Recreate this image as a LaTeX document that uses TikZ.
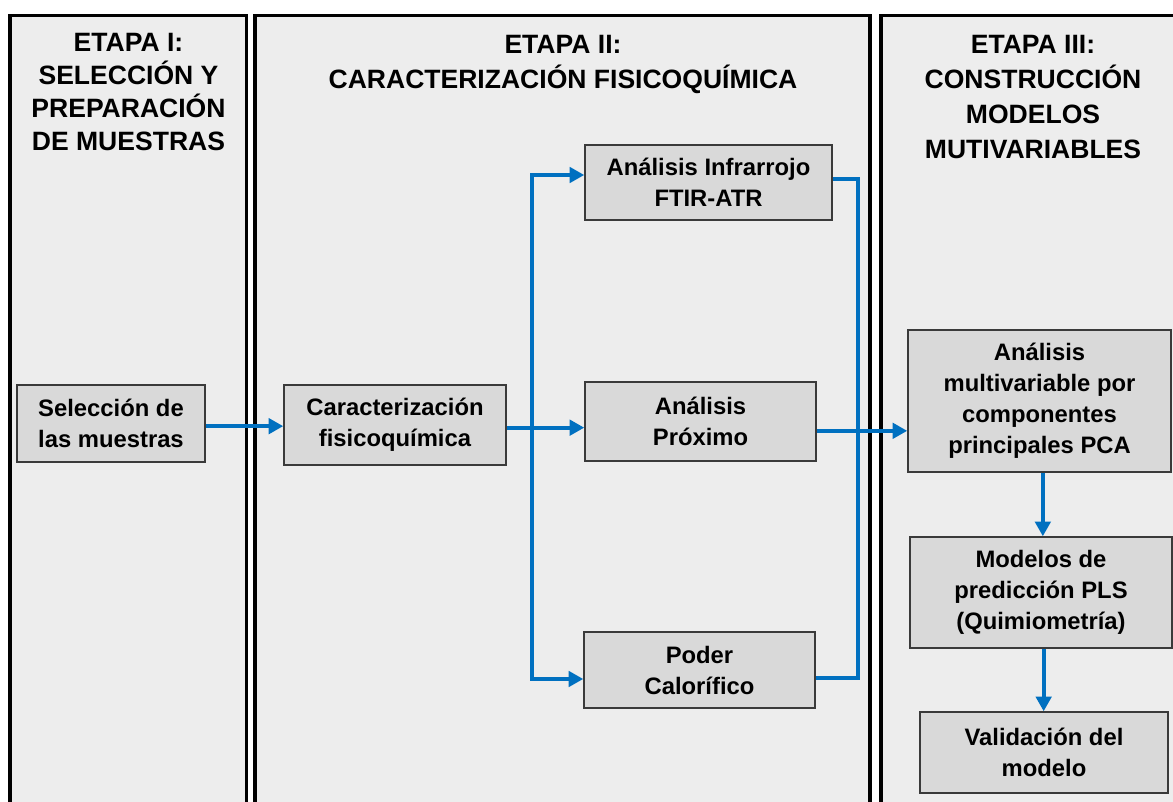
\documentclass[tikz,border=0pt]{standalone}
\usepackage{fontspec}
\setmainfont{Liberation Sans}
\usetikzlibrary{arrows.meta}
\definecolor{stBlue}{HTML}{0070C0}
\definecolor{stPanel}{HTML}{EDEDED}
\definecolor{stBox}{HTML}{D9D9D9}
\definecolor{stEdge}{HTML}{3A3A3A}

\begin{document}
\begin{tikzpicture}[
  x=0.75pt, y=-0.75pt,
  panel/.style ={draw=black, line width=2.3pt, fill=stPanel},
  etapa/.style ={align=center, inner sep=0pt, anchor=north, font=\fontsize{19.9pt}{24.75pt}\selectfont\bfseries},
  etapaw/.style={etapa, font=\fontsize{19.9pt}{26.25pt}\selectfont\bfseries},
  paso/.style  ={draw=stEdge, line width=1.1pt, fill=stBox, align=center, inner sep=0pt, font=\fontsize{17.85pt}{23.25pt}\selectfont\bfseries},
  wire/.style  ={draw=stBlue, line width=2.8pt, line join=miter},
  flow/.style  ={wire, -{Triangle[length=11pt, width=11.5pt]}}]
  \fill[white] (0,0) rectangle (1173,802);
  \useasboundingbox (0,0) rectangle (1173,802);
  \draw[panel] (10,15.5) rectangle (246.5,830);
  \draw[panel] (255,15.5) rectangle (870,830);
  \draw[panel] (881,15.5) rectangle (1190,830);
  \node[etapa] (e1) at (128.5,33) {ETAPA I:\\SELECCIÓN Y\\PREPARACIÓN\\DE MUESTRAS};
  \node[etapaw] (e2) at (563,35) {ETAPA II:\\CARACTERIZACIÓN FISICOQUÍMICA};
  \node[etapaw] (e3) at (1033,35) {ETAPA III:\\CONSTRUCCIÓN\\MODELOS\\MUTIVARIABLES};
  \node[paso, minimum width=141pt, minimum height=57.75pt] (sel) at (111,423.5) {Selección de\\las muestras};
  \node[paso, minimum width=166.5pt, minimum height=60pt] (car) at (395,425) {Caracterización\\fisicoquímica};
  \node[paso, minimum width=185.25pt, minimum height=56.25pt] (ftir) at (708.5,182.5) {Análisis Infrarrojo\\FTIR-ATR};
  \node[paso, minimum width=173.25pt, minimum height=59.25pt] (prox) at (700.5,421.5) {Análisis\\Próximo};
  \node[paso, minimum width=173.25pt, minimum height=57pt] (poder) at (699.5,670) {Poder\\Calorífico};
  \node[paso, minimum width=197.25pt, minimum height=106.5pt] (pca) at (1039.5,401) {Análisis\\multivariable por\\componentes\\principales PCA};
  \node[paso, minimum width=196.5pt, minimum height=83.25pt] (pls) at (1041,592.5) {Modelos de\\predicción PLS\\(Quimiometría)};
  \node[paso, minimum width=186pt, minimum height=60.75pt] (val) at (1044,752.5) {Validación del\\modelo};
  \coordinate (st) at (532,175);
  \coordinate (sb) at (532,679);
  \coordinate (ct) at (858,179);
  \coordinate (cb) at (858,678);
  \draw[flow] ([yshift=-2pt]sel.east) -- ([yshift=-2pt]sel.east -| car.west);
  \draw[flow] ([yshift=-2pt]car.east) -- ([yshift=-2pt]car.east -| prox.west);
  \draw[flow] (sb) -- (st) -- (st -| ftir.west);
  \draw[flow] (st) -- (sb) -- (sb -| poder.west);
  \draw[wire] (ct -| ftir.east) -- (ct) -- (cb) -- (cb -| poder.east);
  \draw[flow] ([yshift=-7pt]prox.east) -- ([yshift=-7pt]prox.east -| pca.west);
  \draw[flow] ([xshift=2.5pt]pca.south) -- ([xshift=2.5pt]pca.south |- pls.north);
  \draw[flow] ([xshift=2pt]pls.south) -- ([xshift=2pt]pls.south |- val.north);
\end{tikzpicture}
\end{document}
